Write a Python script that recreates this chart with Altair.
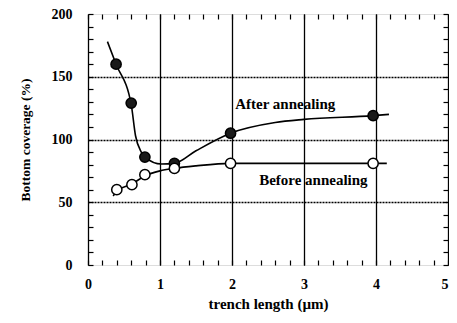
import altair as alt
import pandas as pd

# measured points
after_x = [0.39, 0.60, 0.79, 1.20, 1.98, 3.96]
after_y = [160, 129, 86, 81, 105, 119]
before_x = [0.40, 0.61, 0.79, 1.20, 1.98, 3.96]
before_y = [60, 64, 72, 77, 81, 81]

# fitted curves as drawn
after_curve_x = [0.27, 0.39, 0.60, 0.66, 0.74, 0.79, 1.02, 1.20, 1.50, 1.98, 2.60, 3.00, 3.96, 4.18]
after_curve_y = [178, 160, 128, 103, 90, 86, 80.5, 81, 91, 105, 113.5, 116, 119, 120]
before_curve_x = [0.35, 0.40, 0.61, 0.79, 1.00, 1.20, 1.50, 1.98, 3.96, 4.15]
before_curve_y = [55, 59, 64.5, 71, 75, 77, 79, 81, 81, 81]

label_text = ["After annealing", "Before annealing"]
label_x = [2.74, 3.13]
label_y = [128.5, 67.5]

x_ticks = [round(i * 0.2, 1) for i in range(26)]
y_ticks = [i * 10 for i in range(21)]

FONT = "Liberation Serif"

pts = pd.DataFrame(
    {"x": after_x + before_x, "y": after_y + before_y,
     "series": ["after"] * len(after_x) + ["before"] * len(before_x)}
)
curve_after = pd.DataFrame({"x": after_curve_x, "y": after_curve_y})
curve_before = pd.DataFrame({"x": before_curve_x, "y": before_curve_y})
labels = pd.DataFrame({"x": label_x, "y": label_y, "t": label_text})

xs = alt.Scale(domain=[0, 5], nice=False, zero=False)
ys = alt.Scale(domain=[0, 200], nice=False, zero=False)

is_int = "abs(datum.value - round(datum.value)) < 0.001"
is_50 = "datum.value % 50 == 0 && datum.value > 0 && datum.value < 200"

x_axis = alt.Axis(
    orient="bottom", values=x_ticks, title="trench length (µm)",
    labelExpr=f"{is_int} ? format(datum.value, 'd') : ''",
    labelAlign={"condition": {"test": "datum.value > 4.9", "value": "right"}, "value": "center"},
    tickSize=alt.ExprRef("-5"), tickColor="black", tickWidth=1.2,
    grid=True, gridColor="black", gridWidth=1.3,
    gridOpacity={"condition": {"test": is_int, "value": 1}, "value": 0},
    domain=False, labelFont=FONT, labelFontSize=14, labelFontWeight="bold",
    labelColor="black", labelPadding=17, labelFlush=False, labelOverlap=False,
    titleFont=FONT, titleFontSize=15, titleFontWeight="bold", titleColor="black",
    titlePadding=5,
)
y_axis = alt.Axis(
    orient="left", values=y_ticks, title="Bottom coverage (%)",
    labelExpr="datum.value % 50 == 0 ? format(datum.value, 'd') : ''",
    tickSize=alt.ExprRef("-5"), tickColor="black", tickWidth=1.2,
    grid=True, gridColor="black", gridWidth=1.5, gridDash=[2, 1],
    gridOpacity={"condition": {"test": is_50, "value": 1}, "value": 0},
    domain=False, labelFont=FONT, labelFontSize=14, labelFontWeight="bold",
    labelColor="black", labelPadding=21, labelFlush=False, labelOverlap=False,
    titleFont=FONT, titleFontSize=13.5, titleFontWeight="bold", titleColor="black",
    titlePadding=19,
)
x_axis_top = alt.Axis(
    orient="top", values=x_ticks, labels=False, title=None,
    tickSize=alt.ExprRef("-5"), tickColor="black", tickWidth=1.2,
    grid=False, domain=False,
)
y_axis_right = alt.Axis(
    orient="right", values=y_ticks, labels=False, title=None,
    tickSize=alt.ExprRef("-5"), tickColor="black", tickWidth=1.2,
    grid=False, domain=False,
)

base_axes = alt.Chart(curve_after).mark_line(opacity=0).encode(
    x=alt.X("x:Q", scale=xs, axis=x_axis),
    y=alt.Y("y:Q", scale=ys, axis=y_axis),
)
mirror_axes = alt.Chart(curve_after).mark_line(opacity=0).encode(
    x=alt.X("x:Q", scale=xs, axis=x_axis_top),
    y=alt.Y("y:Q", scale=ys, axis=y_axis_right),
)

X = alt.X("x:Q", scale=xs, axis=None)
Y = alt.Y("y:Q", scale=ys, axis=None)

line_a = alt.Chart(curve_after).mark_line(
    color="black", strokeWidth=1.6, interpolate="monotone"
).encode(x=X, y=Y)
line_b = alt.Chart(curve_before).mark_line(
    color="black", strokeWidth=1.6, interpolate="monotone"
).encode(x=X, y=Y)

points = alt.Chart(pts).mark_point(
    shape="circle", size=105, stroke="black", strokeWidth=1.5, opacity=1, filled=True
).encode(
    x=X, y=Y,
    fill=alt.Fill("series:N", scale=alt.Scale(domain=["after", "before"], range=["#1a1a1a", "white"]), legend=None),
)

texts = alt.Chart(labels).mark_text(
    font=FONT, fontSize=15, fontWeight="bold", color="black", align="center", baseline="middle"
).encode(x=X, y=Y, text="t:N")

chart = alt.layer(
    base_axes, mirror_axes, line_a, line_b, points, texts
).resolve_axis(x="independent", y="independent").properties(
    width=360, height=251,
    padding={"left": 80, "top": 6, "right": 1, "bottom": 50},
    autosize=alt.AutoSizeParams(type="none"),
).configure_view(stroke="black", strokeWidth=2).configure(background="white")

chart.save("out.html", embed_options={"renderer": "svg", "actions": False})
